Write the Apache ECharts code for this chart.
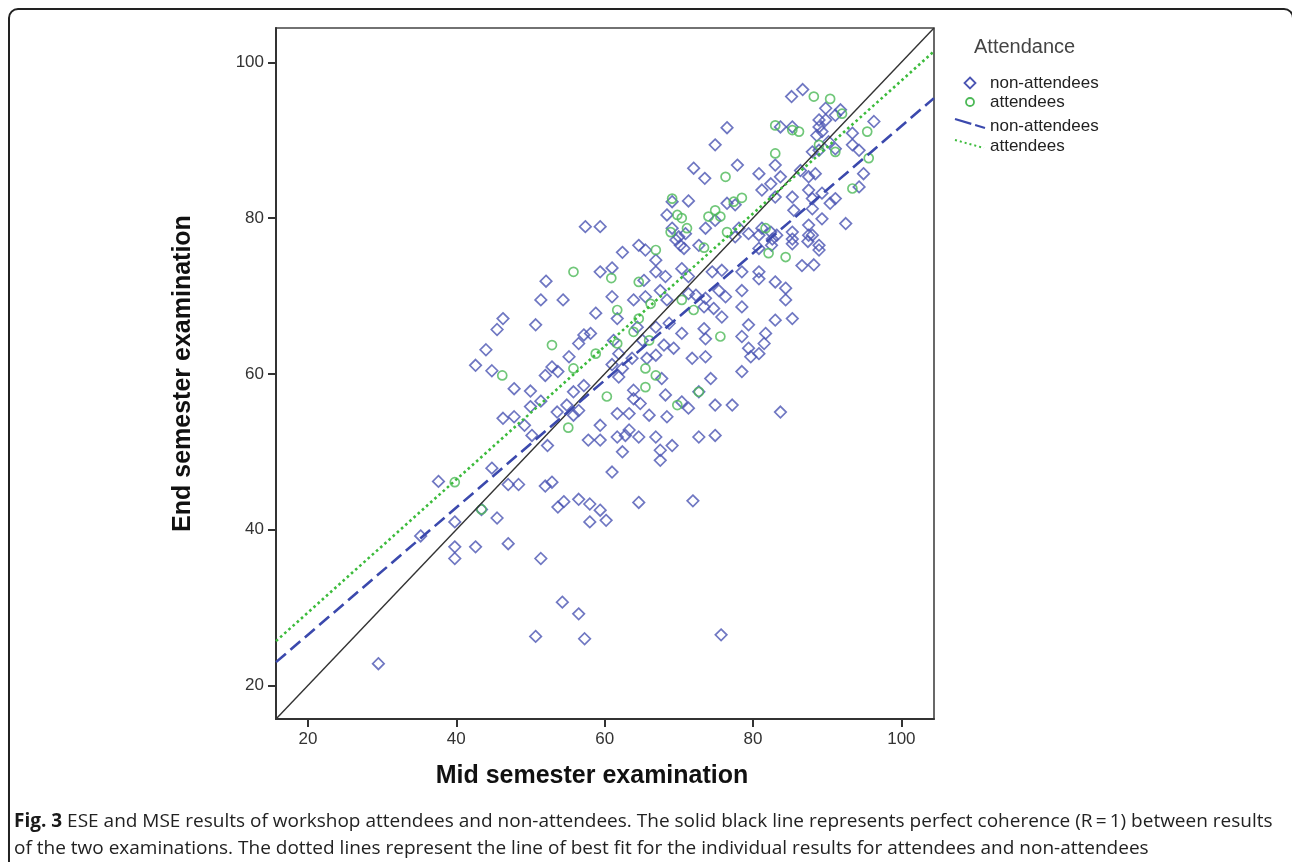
<!DOCTYPE html>
<html>
<head>
<meta charset="utf-8">
<script src="https://cdn.jsdelivr.net/npm/echarts@6/dist/echarts.min.js"></script>
<style>
  html, body { margin: 0; padding: 0; background: #fff; }
  #main { width: 1292px; height: 862px; }
</style>
</head>
<body>
<div id="main"></div>
<script>
// axis range and tick labels (both axes share the same range)
const axisRange = [15.7, 104.4];
const tickValues = [20, 40, 60, 80, 100];

// non-attendees: mid semester (x) / end semester (y)
const nonAttMid = [37.6,45.5,47.0,48.4,52.0,52.9,53.7,54.5,56.5,58.0,58.0,35.2,39.8,39.8,39.8,42.6,47.0,51.4,54.3,56.5,
  50.7,57.3,29.5,43.4,59.4,60.2,64.6,71.9,75.7,52.1,51.4,54.4,46.3,45.5,50.7,44.0,42.6,44.8,55.2,56.5,
  57.2,52.9,52.0,53.7,47.8,50.0,51.4,50.0,55.8,57.2,46.3,47.8,49.2,50.2,52.3,53.6,54.9,56.5,55.8,57.8,
  44.8,62.4,64.6,65.5,70.2,70.7,80.8,82.5,85.3,87.4,88.9,86.6,88.2,59.4,61.0,65.3,66.9,66.9,68.2,70.4,
  71.3,74.5,75.8,78.5,80.8,80.8,83.0,84.4,84.4,78.5,78.5,61.0,63.9,65.5,67.5,68.4,71.3,72.3,73.6,75.4,
  76.3,73.4,74.7,75.8,58.8,61.7,66.9,68.7,64.4,58.1,61.2,61.9,65.1,68.0,69.3,70.4,73.4,73.6,79.4,81.7,
  83.0,85.3,78.5,79.4,81.5,80.8,79.7,78.5,71.8,73.6,66.9,65.7,63.7,61.0,62.4,67.7,74.3,61.9,63.9,63.9,
  64.8,68.2,72.7,71.3,70.4,74.9,77.2,83.7,61.7,63.3,66.0,68.4,59.4,63.3,62.8,61.7,64.6,66.9,69.1,67.5,
  67.5,72.7,74.9,59.4,62.4,61.0,86.7,85.2,89.8,88.9,89.8,91.8,91.1,96.3,93.4,93.4,94.3,94.9,94.3,76.5,
  83.7,85.3,88.9,89.3,88.6,88.9,90.2,91.1,88.0,74.9,72.0,73.5,77.9,80.8,83.0,83.7,86.4,87.5,88.4,82.4,
  81.2,83.0,85.3,87.5,88.0,89.3,91.1,90.4,85.5,88.0,92.5,87.5,85.3,88.0,89.3,76.5,77.6,71.3,69.1,68.4,
  74.9,57.4,59.4,69.1,70.0,70.9,69.6,73.6,78.1,80.8,77.6,79.4,81.2,82.4,82.6,83.2,85.3,87.5,88.9,72.7];
const nonAttEnd = [46.2,41.5,45.8,45.8,45.6,46.1,42.9,43.6,43.9,43.3,41.0,39.2,41.0,37.8,36.3,37.8,38.2,36.3,30.7,29.2,
  26.3,26.0,22.8,42.6,42.5,41.2,43.5,43.7,26.5,71.9,69.5,69.5,67.1,65.7,66.3,63.1,61.1,60.4,62.2,63.9,
  65.0,60.9,59.8,60.3,58.1,57.8,56.5,55.8,57.7,58.5,54.3,54.5,53.4,52.1,50.8,55.1,56.0,55.3,54.7,51.5,
  47.9,75.6,76.5,75.9,76.5,76.1,76.1,76.5,76.7,77.0,75.9,73.9,74.0,73.1,73.6,72.0,74.6,73.1,72.5,73.5,
  72.5,73.1,73.3,73.1,73.1,72.2,71.8,71.0,69.5,70.7,68.6,69.9,69.5,69.9,70.7,69.5,70.3,70.1,69.7,70.7,
  69.9,68.6,68.4,67.3,67.8,67.1,66.0,66.5,66.0,65.2,64.3,62.6,64.3,63.7,63.3,65.2,65.8,64.5,66.3,65.2,
  66.9,67.1,64.8,63.3,63.9,62.6,62.2,60.3,62.0,62.2,62.4,62.0,62.0,61.2,60.7,59.4,59.4,59.6,57.9,56.8,
  56.2,57.3,57.7,55.6,56.4,56.0,56.0,55.1,54.9,54.9,54.7,54.5,53.4,52.8,52.1,51.9,51.9,51.9,50.8,50.2,
  48.9,51.9,52.1,51.5,50.0,47.4,96.5,95.6,94.1,92.6,92.6,93.9,93.2,92.4,90.9,89.4,88.7,85.7,84.0,91.6,
  91.7,91.7,91.7,91.1,90.6,88.7,89.8,88.9,88.5,89.4,86.4,85.1,86.8,85.7,86.8,85.3,86.1,85.3,85.7,84.4,
  83.6,82.7,82.7,83.6,82.5,83.2,82.5,81.9,81.0,81.2,79.3,79.1,78.2,77.8,79.9,81.9,81.7,82.2,82.1,80.4,
  79.7,78.9,78.9,78.7,77.6,78.0,77.2,78.7,78.7,77.8,77.6,78.0,78.7,78.2,77.3,77.8,77.3,77.8,76.5,76.5];

// attendees: mid semester (x) / end semester (y)
const attMid = [55.8,52.9,46.2,55.8,55.1,39.8,43.4,66.9,73.4,82.1,84.4,60.9,64.6,66.2,70.4,72.0,61.7,64.6,63.9,58.8,
  61.7,66.0,75.6,65.5,66.9,60.3,65.5,72.7,69.8,88.2,90.4,92.0,95.4,95.6,93.4,83.0,85.3,86.2,88.9,91.1,
  83.0,76.3,78.5,77.4,69.1,69.8,70.4,74.0,74.9,75.6,68.9,71.1,76.5,81.7];
const attEnd = [73.1,63.7,59.8,60.7,53.1,46.1,42.6,75.9,76.2,75.5,75.0,72.3,71.8,69.0,69.5,68.2,68.2,67.1,65.4,62.6,
  63.9,64.3,64.8,60.7,59.8,57.1,58.3,57.7,56.0,95.6,95.3,93.4,91.1,87.7,83.8,91.9,91.3,91.1,89.4,88.5,
  88.3,85.3,82.6,82.1,82.5,80.4,80.0,80.2,81.0,80.2,78.2,78.7,78.2,78.7];

// lines of best fit, read at the edges of the plot
const nonAttFitMid = [15.7, 104.4];
const nonAttFitEnd = [23.0, 95.4];
const attFitMid = [15.7, 104.4];
const attFitEnd = [25.7, 101.4];

const legendTitle = 'Attendance';
const legendLabels = ['non-attendees', 'attendees', 'non-attendees', 'attendees'];

const zip = (xs, ys) => xs.map((x, i) => [x, ys[i]]);
const FONT = '"Liberation Sans", Arial, sans-serif';
const BLUE = '#4b55b3';
const GREEN = '#4cb957';
const BLUE_LINE = '#3b49ad';
const GREEN_LINE = '#3cbb3c';

const chart = echarts.init(document.getElementById('main'));

function valueAxis(name, nameGap, rotate, namePadding) {
  return {
    type: 'value',
    min: axisRange[0],
    max: axisRange[1],
    name: name,
    nameLocation: 'middle',
    nameGap: nameGap,
    nameRotate: rotate,
    nameTextStyle: { fontFamily: FONT, fontSize: 25, fontWeight: 'bold', color: '#111', padding: namePadding },
    axisLine: { show: true, onZero: false, lineStyle: { color: '#333', width: 2 } },
    axisTick: { show: true, length: 8, customValues: tickValues, lineStyle: { color: '#333', width: 2 } },
    axisLabel: { customValues: tickValues, fontFamily: FONT, fontSize: 17, color: '#333', margin: 12 },
    splitLine: { show: false }
  };
}

// legend drawn by hand, so that each entry shows only its own mark
const legendX = 970, legendTextX = 990;
const legendRows = [83, 102, 126, 146];
const legendGraphics = [
  {
    type: 'text', left: 974, top: 37,
    style: { text: legendTitle, fontFamily: FONT, fontSize: 20, fill: '#444' }
  },
  {
    type: 'polygon',
    shape: { points: [[legendX, legendRows[0] - 5.5], [legendX + 5.5, legendRows[0]], [legendX, legendRows[0] + 5.5], [legendX - 5.5, legendRows[0]]] },
    style: { fill: 'none', stroke: BLUE, lineWidth: 1.8 }
  },
  {
    type: 'circle',
    shape: { cx: legendX, cy: legendRows[1], r: 4 },
    style: { fill: 'none', stroke: GREEN, lineWidth: 1.8 }
  },
  {
    type: 'line',
    shape: { x1: legendX - 15, y1: legendRows[2] - 7, x2: legendX + 15, y2: legendRows[2] + 2 },
    style: { stroke: BLUE_LINE, lineWidth: 2.2, lineDash: [17, 4] }
  },
  {
    type: 'line',
    shape: { x1: legendX - 15, y1: legendRows[3] - 6, x2: legendX + 14, y2: legendRows[3] + 2 },
    style: { stroke: GREEN_LINE, lineWidth: 2, lineDash: [2, 3] }
  }
].concat(legendLabels.map((t, i) => ({
  type: 'text', x: legendTextX, y: legendRows[i],
  style: { text: t, fontFamily: FONT, fontSize: 17, fill: '#222', verticalAlign: 'middle' }
})));

const option = {
  animation: false,
  backgroundColor: '#fff',
  grid: {
    left: 276, top: 28, right: 358, bottom: 143,
    show: true, borderColor: '#444', borderWidth: 1.6, backgroundColor: '#fff'
  },
  xAxis: valueAxis('Mid semester examination', 45, 0, [0, 26, 0, 0]),
  yAxis: valueAxis('End semester examination', 80, 90, 0),
  series: [
    {
      name: 'ref',
      type: 'line',
      data: zip(axisRange, axisRange),
      symbol: 'none',
      lineStyle: { color: '#333', width: 1.4 },
      z: 3
    },
    {
      name: 'non-attendees',
      type: 'scatter',
      data: zip(nonAttMid, nonAttEnd),
      symbol: 'diamond',
      symbolSize: 11.5,
      itemStyle: { color: 'rgba(0,0,0,0)', borderColor: BLUE, borderWidth: 1.7 },
      z: 2
    },
    {
      name: 'attendees',
      type: 'scatter',
      data: zip(attMid, attEnd),
      symbol: 'circle',
      symbolSize: 9,
      itemStyle: { color: 'rgba(0,0,0,0)', borderColor: GREEN, borderWidth: 1.7 },
      z: 2
    },
    {
      name: 'non-attendees fit',
      type: 'line',
      data: zip(nonAttFitMid, nonAttFitEnd),
      symbol: 'none',
      lineStyle: { color: BLUE_LINE, width: 2.6, type: [13, 6] },
      z: 4
    },
    {
      name: 'attendees fit',
      type: 'line',
      data: zip(attFitMid, attFitEnd),
      symbol: 'none',
      lineStyle: { color: GREEN_LINE, width: 2.6, type: [2.6, 3] },
      z: 4
    }
  ],
  graphic: [
    {
      type: 'rect',
      shape: { x: 9, y: 9, width: 1284, height: 880, r: 9 },
      style: { fill: 'none', stroke: '#222', lineWidth: 2 },
      silent: true
    },
    {
      type: 'text',
      left: 14,
      top: 808,
      style: {
        text: '{b|Fig. 3} ESE and MSE results of workshop attendees and non-attendees. The solid black line represents perfect coherence (R\u2009=\u20091) between results\nof the two examinations. The dotted lines represent the line of best fit for the individual results for attendees and non-attendees',
        fontFamily: '"Open Sans", "Noto Sans", sans-serif',
        fontSize: 19,
        lineHeight: 27,
        fill: '#222',
        rich: {
          b: { fontFamily: '"Open Sans", "Noto Sans", sans-serif', fontSize: 19, fontWeight: 'bold', fill: '#1a1a1a', lineHeight: 27 }
        }
      }
    }
  ].concat(legendGraphics)
};

chart.setOption(option);
</script>
</body>
</html>
